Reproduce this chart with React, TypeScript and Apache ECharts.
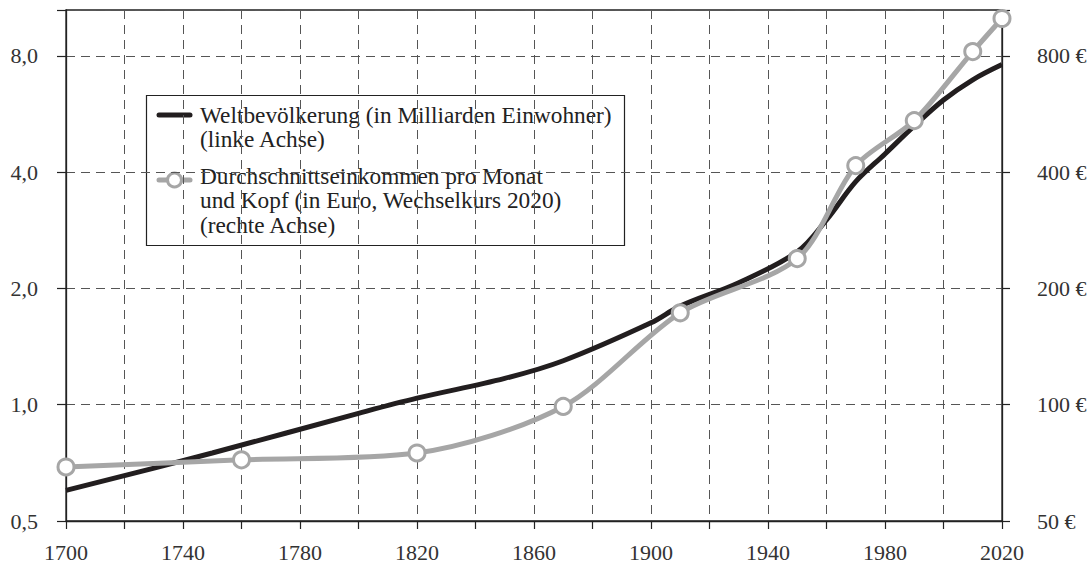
import React, { useEffect, useRef } from "react";
import * as echarts from "echarts";

// Weltbevölkerung (Milliarden)
const popYears = [1700, 1750, 1800, 1820, 1850, 1870, 1900, 1910, 1930, 1950, 1960, 1970, 1980, 1990, 2000, 2010, 2020];
const popValues = [0.6, 0.75, 0.95, 1.04, 1.17, 1.3, 1.63, 1.8, 2.07, 2.49, 3.01, 3.78, 4.46, 5.27, 6.15, 6.94, 7.6];

// Durchschnittseinkommen pro Monat und Kopf (Euro)
const incYears = [1700, 1760, 1820, 1870, 1910, 1950, 1970, 1990, 2010, 2020];
const incValues = [69, 72, 75, 99, 173, 239, 416, 544, 821, 1000];

const leftTicks = [0.5, 1, 2, 4, 8];
const leftTickLabels = ["0,5", "1,0", "2,0", "4,0", "8,0"];
const rightTickLabels = ["50 €", "100 €", "200 €", "400 €", "800 €"];
const xLabelYears = [1700, 1740, 1780, 1820, 1860, 1900, 1940, 1980, 2020];

const legendLine1 = "Weltbevölkerung (in Milliarden Einwohner)\n(linke Achse)";
const legendLine2 = "Durchschnittseinkommen pro Monat\nund Kopf (in Euro, Wechselkurs 2020)\n(rechte Achse)";

const FONT = "'Liberation Serif', 'DejaVu Serif', serif";
const BLACK = "#221e1f";
const GREY = "#a6a6a6";

function tickIndex(v: number): number {
  for (let i = 0; i < leftTicks.length; i++) {
    if (Math.abs(v - leftTicks[i]) / leftTicks[i] < 1e-4) return i;
  }
  return -1;
}

export default function App() {
  const ref = useRef<HTMLDivElement>(null);
  useEffect(() => {
    if (!ref.current) return;
    const chart = echarts.init(ref.current, undefined, { renderer: "svg" });
    const dash = { type: [9, 6] as number[], color: "#555", width: 1 };
    const axisLabelBase = { color: "#333", fontFamily: FONT, fontSize: 22 };
    chart.setOption({
      animation: false,
      backgroundColor: "#fff",
      grid: {
        left: 66,
        right: 88,
        top: 10,
        bottom: 46,
        show: true,
        borderColor: "#222",
        borderWidth: 1.3,
        backgroundColor: "transparent",
      },
      xAxis: {
        type: "value",
        min: 1700,
        max: 2020,
        interval: 20,
        axisLine: { show: true, lineStyle: { color: "#222", width: 1.3 } },
        axisTick: { show: true, inside: false, length: 8, lineStyle: { color: "#222", width: 1.2 } },
        splitLine: { show: true, lineStyle: dash },
        axisLabel: {
          ...axisLabelBase,
          margin: 20,
          formatter: (v: number) => (xLabelYears.indexOf(Math.round(v)) >= 0 ? String(Math.round(v)) : ""),
        },
      },
      yAxis: [
        {
          type: "log",
          logBase: 2,
          min: 0.5,
          max: 10.52,
          interval: 1,
          position: "left",
          axisLine: { show: true, lineStyle: { color: "#222", width: 1.3 } },
          axisTick: { show: true, inside: false, length: 9, lineStyle: { color: "#222", width: 1.2 } },
          splitLine: { show: true, lineStyle: dash },
          axisLabel: {
            ...axisLabelBase,
            margin: 28,
            formatter: (v: number) => {
              const i = tickIndex(v);
              return i >= 0 ? leftTickLabels[i] : "";
            },
          },
        },
        {
          type: "log",
          logBase: 2,
          min: 0.5,
          max: 10.52,
          interval: 1,
          position: "right",
          axisLine: { show: true, lineStyle: { color: "#222", width: 1.3 } },
          axisTick: { show: true, inside: false, length: 8, lineStyle: { color: "#222", width: 1.2 } },
          splitLine: { show: false },
          axisLabel: {
            ...axisLabelBase,
            margin: 35,
            formatter: (v: number) => {
              const i = tickIndex(v);
              return i >= 0 ? rightTickLabels[i] : "";
            },
          },
        },
      ],
      series: [
        {
          name: "Weltbevölkerung",
          type: "line",
          yAxisIndex: 0,
          smooth: 0.35,
          symbol: "none",
          lineStyle: { color: BLACK, width: 5 },
          data: popYears.map((y, i) => [y, popValues[i]]),
          z: 3,
        },
        {
          name: "Durchschnittseinkommen",
          type: "line",
          yAxisIndex: 1,
          smooth: 0.3,
          symbol: "circle",
          symbolSize: 16,
          showSymbol: true,
          itemStyle: { color: "#fff", borderColor: GREY, borderWidth: 3 },
          lineStyle: { color: GREY, width: 5 },
          data: incYears.map((y, i) => [y, incValues[i] / 100]),
          z: 4,
        },
      ],
      graphic: [
        {
          type: "group",
          z: 100,
          children: [
            {
              type: "rect",
              shape: { x: 146.5, y: 95.5, width: 478, height: 150 },
              style: { fill: "#fff", stroke: "#222", lineWidth: 1.2 },
            },
            {
              type: "line",
              shape: { x1: 159, y1: 115, x2: 190, y2: 115 },
              style: { stroke: BLACK, lineWidth: 5, lineCap: "round" },
            },
            {
              type: "text",
              x: 200,
              y: 103,
              style: { text: legendLine1, font: `23.3px ${FONT}`, fill: "#222", lineHeight: 24.3, verticalAlign: "top" },
            },
            {
              type: "line",
              shape: { x1: 159, y1: 180, x2: 190, y2: 180 },
              style: { stroke: GREY, lineWidth: 5, lineCap: "round" },
            },
            {
              type: "circle",
              shape: { cx: 174.5, cy: 180, r: 7 },
              style: { fill: "#fff", stroke: GREY, lineWidth: 3 },
            },
            {
              type: "text",
              x: 200,
              y: 164,
              style: { text: legendLine2, font: `23.3px ${FONT}`, fill: "#222", lineHeight: 24.3, verticalAlign: "top" },
            },
          ],
        },
      ],
    });
    return () => chart.dispose();
  }, []);
  return <div ref={ref} style={{ position: "fixed", left: 0, top: 0, width: 1090, height: 567 }} />;
}
